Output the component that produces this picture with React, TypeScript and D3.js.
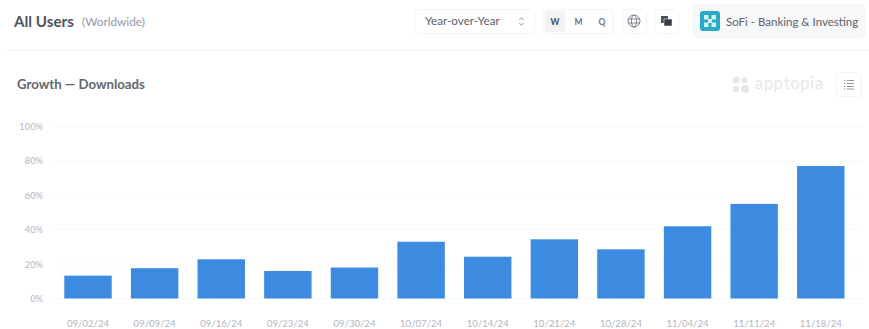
import React from "react";
import * as d3 from "d3";

const categories = ["09/02/24","09/09/24","09/16/24","09/23/24","09/30/24","10/07/24","10/14/24","10/21/24","10/28/24","11/04/24","11/11/24","11/18/24"];
const growth = [13.3,17.6,22.8,16,18,33,24.3,34.4,28.6,42,55,77];
const yTicks = [0,20,40,60,80,100];
const periods = ["W","M","Q"];

const width = 869;
const height = 329;
const font = "Lato, 'Open Sans', sans-serif";

const x = d3.scaleBand<string>().domain(categories).range([54.7, 854.1]).paddingInner(0.288).paddingOuter(0.144);
const y = d3.scaleLinear().domain([0, 100]).range([298.5, 126.5]);

const Box = ({ x: bx, y: by, w, h, fill = "#fff", stroke = "#f3f4f6" }: any) => (
  <rect x={bx} y={by} width={w} height={h} rx={3} fill={fill} stroke={stroke} />
);

export default function App() {
  return (
    <svg width={width} height={height} style={{ position: "fixed", left: 0, top: 0, background: "#fff" }} fontFamily={font}>
      {/* Page header */}
      <text x={14} y={27} fontSize={15.2} fontWeight={700} fill="#50545f">All Users</text>
      <text x={82} y={26} fontSize={11.8} fill="#939aac">(Worldwide)</text>
      <line x1={5} x2={869} y1={50.5} y2={50.5} stroke="#f1f2f3" />

      <Box x={414.5} y={9.5} w={120} h={24} />
      <text x={425} y={25} fontSize={11.7} fill="#5d616c">Year-over-Year</text>
      <g fill="none" stroke="#8a8e98" strokeWidth={0.9}>
        <path d="M519.5 20 L521.5 17.5 L523.5 20" />
        <path d="M519.5 23 L521.5 25.5 L523.5 23" />
      </g>

      <Box x={542.5} y={9.5} w={71} h={24} />
      <rect x={545} y={11} width={20} height={21} fill="#f0f2f4" />
      {periods.map((p, i) => (
        <text key={p} x={555 + i * 23.5} y={25} fontSize={8.5} fontWeight={700} textAnchor="middle" fill={i === 0 ? "#444954" : "#70747f"}>{p}</text>
      ))}

      <Box x={622.5} y={9.5} w={24} h={24} />
      <g fill="none" stroke="#73777f" strokeWidth={0.9}>
        <circle cx={634} cy={21} r={6} />
        <ellipse cx={634} cy={21} rx={2.6} ry={6} />
        <line x1={628} x2={640} y1={19} y2={19} />
        <line x1={628} x2={640} y1={23} y2={23} />
      </g>

      <Box x={654.5} y={9.5} w={24} h={24} />
      <rect x={661} y={16} width={7} height={7} fill="#4a4e5a" />
      <rect x={664} y={19} width={8} height={7} fill="#373b48" stroke="#fff" strokeWidth={0.5} />

      <Box x={693.5} y={5} w={171} h={32} fill="#f7f8f9" stroke="#f1f2f3" />
      <rect x={700} y={11} width={20} height={20} rx={3} fill="#28abc8" />
      <g fill="#d5f1f6">
        <rect x={704} y={15} width={4.5} height={4.5} />
        <rect x={711.5} y={15} width={4.5} height={4.5} />
        <rect x={704} y={22.5} width={4.5} height={4.5} />
        <rect x={711.5} y={22.5} width={4.5} height={4.5} />
        <rect x={708} y={19} width={4} height={4} />
      </g>
      <text x={726} y={26} fontSize={11.5} fill="#5d616c">SoFi - Banking &amp; Investing</text>

      {/* Panel heading */}
      <text x={17} y={89} fontSize={13.2} fontWeight={700} fill="#62666f">Growth — Downloads</text>

      <g fill="#e6e7ea">
        <circle cx={736} cy={80} r={3.6} />
        <circle cx={744.5} cy={80.5} r={3} />
        <circle cx={736} cy={89} r={3.2} />
        <circle cx={745} cy={89} r={4} />
      </g>
      <text x={755} y={89} fontSize={16.5} letterSpacing={0.7} fill="#e6e7ea">apptopia</text>
      <Box x={836.5} y={72.5} w={25} h={24} />
      <g stroke="#999ca5" strokeWidth={1}>
        {[80.5, 83.5, 86.5, 89].map(ly => (
          <g key={ly}>
            <line x1={844} x2={845.5} y1={ly} y2={ly} />
            <line x1={847} x2={854} y1={ly} y2={ly} />
          </g>
        ))}
      </g>

      {/* Chart */}
      {yTicks.map(t => (
        <g key={t}>
          <line x1={54} x2={863} y1={y(t)} y2={y(t)} stroke="#f8f8f9" />
          <text x={43} y={y(t) + 3.5} fontSize={9.3} textAnchor="end" fill="#b3b6bd">{t}%</text>
        </g>
      ))}
      {categories.map((c, i) => (
        <g key={c}>
          <rect x={x(c)} y={y(growth[i])} width={x.bandwidth()} height={y(0) - y(growth[i])} fill="#3d8be0" />
          <text x={x(c)! + x.bandwidth() / 2} y={326.5} fontSize={9.6} textAnchor="middle" fill="#b3b6bd">{c}</text>
        </g>
      ))}
    </svg>
  );
}
